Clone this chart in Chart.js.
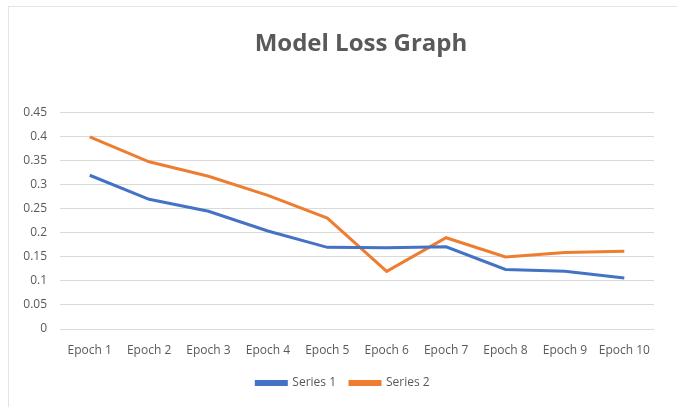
<!DOCTYPE html>
<html>
<head>
<meta charset="utf-8">
<script src="https://cdn.jsdelivr.net/npm/chart.js@4"></script>
<style>
  body { margin: 0; background: #fff; }
  #frame {
    position: absolute; left: 8px; top: 6px; width: 700px; height: 450px;
    border: 1px solid #e3e3e3; box-sizing: border-box;
  }
  #wrap { position: absolute; left: 0; top: 0; width: 677px; height: 407px; }
</style>
</head>
<body>
<div id="frame"></div>
<div id="wrap"><canvas id="lossChart" width="677" height="407"></canvas></div>
<script>
// Chart data
const epochs = ['Epoch 1', 'Epoch 2', 'Epoch 3', 'Epoch 4', 'Epoch 5',
  'Epoch 6', 'Epoch 7', 'Epoch 8', 'Epoch 9', 'Epoch 10'];
const series1 = [0.32, 0.27, 0.245, 0.204, 0.17, 0.169, 0.171, 0.124, 0.12, 0.106];
const series2 = [0.40, 0.348, 0.318, 0.278, 0.231, 0.12, 0.19, 0.15, 0.159, 0.162];
const yTicks = [0, 0.05, 0.1, 0.15, 0.2, 0.25, 0.3, 0.35, 0.4, 0.45];

const textColor = '#595959';
const gridColor = '#d9d9d9';

// The original frame is wider than the picture, so title and legend sit right of centre
const shiftBlocks = {
  id: 'shiftBlocks',
  afterLayout: (chart) => {
    chart.titleBlock.left += 30;
    chart.titleBlock.right += 30;
    chart.legend.left += 12;
    chart.legend.right += 12;
  },
};

const ctx = document.getElementById('lossChart').getContext('2d');

const lossChart = new Chart(ctx, {
  type: 'line',
  data: {
    labels: epochs,
    datasets: [
      {
        label: 'Series 1',
        data: series1,
        borderColor: '#4472C4',
        backgroundColor: '#4472C4',
        borderWidth: 3,
        pointRadius: 0,
        tension: 0,
      },
      {
        label: 'Series 2',
        data: series2,
        borderColor: '#ED7D31',
        backgroundColor: '#ED7D31',
        borderWidth: 3,
        pointRadius: 0,
        tension: 0,
      },
    ],
  },
  options: {
    responsive: false,
    animation: false,
    layout: {
      padding: { left: 8, right: 23, top: 0, bottom: 8 },
    },
    scales: {
      x: {
        offset: true,
        grid: { display: false, drawTicks: false },
        border: { display: false },
        ticks: {
          color: textColor,
          font: { family: 'Open Sans', size: 12 },
          padding: 14,
          maxRotation: 0,
          autoSkip: false,
        },
        afterFit: (scale) => {
          scale.height = 34;
        },
      },
      y: {
        min: 0,
        max: 0.45,
        afterBuildTicks: (scale) => {
          scale.ticks = yTicks.map((v) => ({ value: v }));
        },
        grid: { color: gridColor, drawTicks: false },
        border: { display: false },
        ticks: {
          color: textColor,
          font: { family: 'Open Sans', size: 12 },
          padding: 13,
          callback: (value) => String(value),
        },
        afterFit: (scale) => {
          scale.width = 52;
        },
      },
    },
    plugins: {
      title: {
        display: true,
        text: 'Model Loss Graph',
        color: textColor,
        font: { family: 'Open Sans', size: 24, weight: 'bold' },
        padding: { top: 30, bottom: 54 },
      },
      legend: {
        position: 'bottom',
        labels: {
          color: textColor,
          font: { family: 'Open Sans', size: 12 },
          boxWidth: 30,
          boxHeight: 3,
          padding: 14,
        },
      },
      tooltip: { enabled: false },
    },
  },
  plugins: [shiftBlocks],
});
</script>
</body>
</html>
